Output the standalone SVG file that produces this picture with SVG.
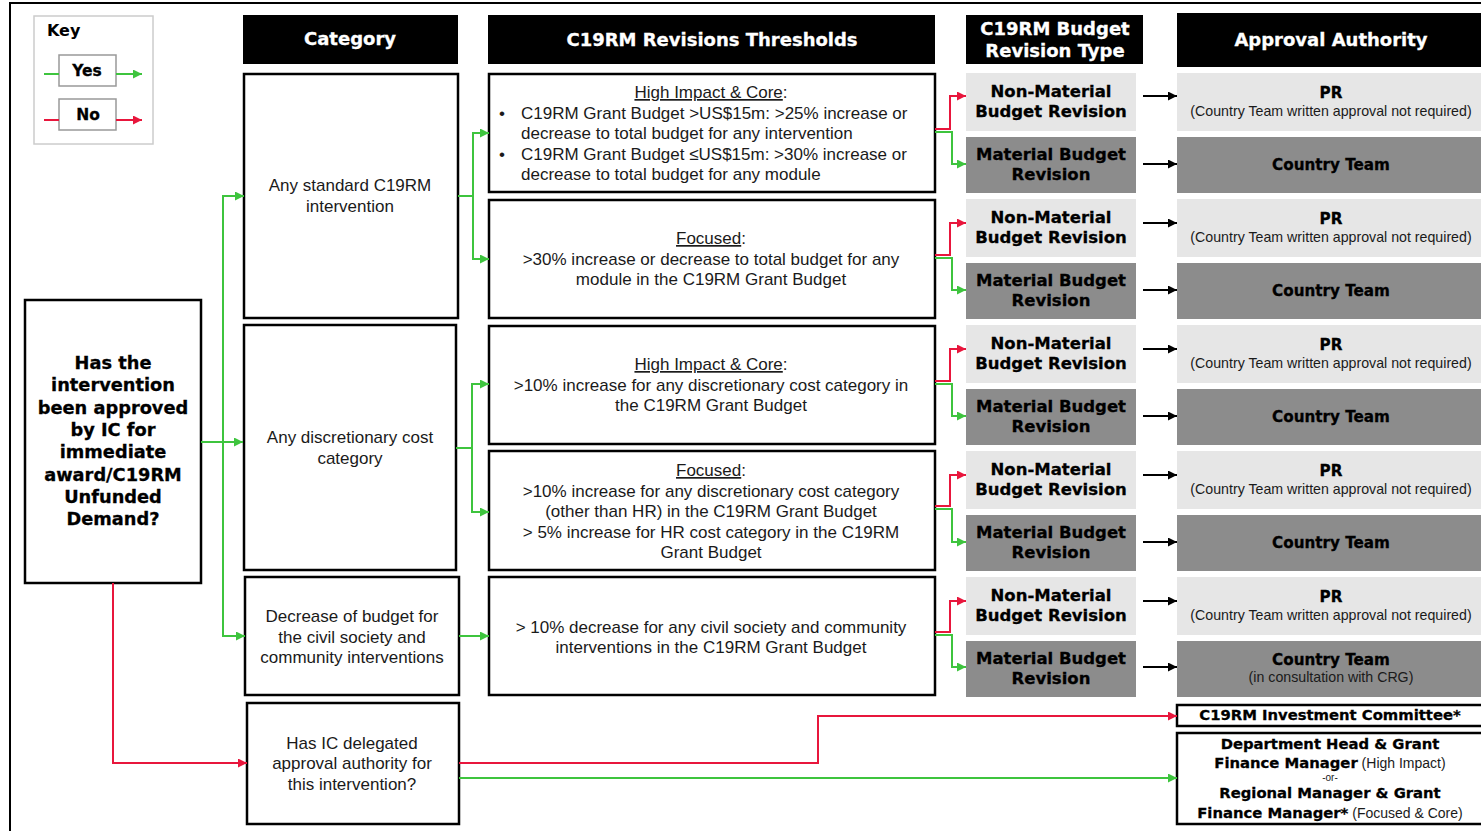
<svg xmlns="http://www.w3.org/2000/svg" width="1481" height="831" viewBox="0 0 1481 831">
<style>
.box{fill:#fff;stroke:#000;stroke-width:2.5}
.hdr{fill:#000}
.ht{font-family:"DejaVu Sans",sans-serif;font-weight:bold;font-size:18px;fill:#fff;stroke:#fff;stroke-width:0.3;text-anchor:middle}
.t{font-family:"Liberation Sans",Arial,sans-serif;font-size:17px;fill:#1a1a1a;text-anchor:middle}
.tl{font-family:"Liberation Sans",Arial,sans-serif;font-size:17px;fill:#1a1a1a}
.s{font-family:"Liberation Sans",Arial,sans-serif;font-size:14.2px;fill:#1a1a1a;text-anchor:middle}
.b{font-family:"DejaVu Sans",sans-serif;font-weight:bold;font-size:16.5px;fill:#000;stroke:#000;stroke-width:0.3;text-anchor:middle}
.bl{font-family:"DejaVu Sans",sans-serif;font-weight:bold;font-size:17.8px;fill:#000;stroke:#000;stroke-width:0.3;text-anchor:middle}
.bs{font-size:15.2px}
.u{text-decoration:underline}
.nm{fill:#e6e6e6}
.m{fill:#8c8c8c}
.g{fill:none;stroke:#3ec43e;stroke-width:2}
.r{fill:none;stroke:#e8163c;stroke-width:2}
.k{fill:none;stroke:#000;stroke-width:2}
</style>
<defs>
<marker id="ag" viewBox="0 0 10 10" refX="10" refY="5" markerWidth="9" markerHeight="9" markerUnits="userSpaceOnUse" orient="auto"><path d="M0,0L10,5L0,10z" fill="#3ec43e"/></marker>
<marker id="ar" viewBox="0 0 10 10" refX="10" refY="5" markerWidth="9" markerHeight="9" markerUnits="userSpaceOnUse" orient="auto"><path d="M0,0L10,5L0,10z" fill="#e8163c"/></marker>
<marker id="ak" viewBox="0 0 10 10" refX="10" refY="5" markerWidth="9" markerHeight="9" markerUnits="userSpaceOnUse" orient="auto"><path d="M0,0L10,5L0,10z" fill="#000"/></marker>
</defs>
<rect width="1481" height="831" fill="#fff"/>
<path d="M10,831V3H1481" fill="none" stroke="#000" stroke-width="2"/>

<g id="key">
<rect x="34" y="16" width="119" height="128" fill="#fff" stroke="#cccccc" stroke-width="1.5"/>
<text x="47" y="36" style="font-family:'DejaVu Sans',sans-serif;font-weight:bold;font-size:16px">Key</text>
<rect x="59" y="55" width="57" height="31" fill="#fff" stroke="#999" stroke-width="1.5"/>
<text x="87" y="76" class="b" style="font-size:15.5px">Yes</text>
<path d="M44,74H59" class="g"/><path d="M116,74H142" class="g" marker-end="url(#ag)"/>
<rect x="59" y="99" width="57" height="31" fill="#fff" stroke="#999" stroke-width="1.5"/>
<text x="88" y="120" class="b" style="font-size:15.5px">No</text>
<path d="M44,120H59" class="r"/><path d="M116,120H142" class="r" marker-end="url(#ar)"/>
</g>

<g id="headers">
<rect class="hdr" x="243" y="15" width="215" height="49"/>
<text class="ht" x="350" y="45">Category</text>
<rect class="hdr" x="488" y="15" width="447" height="49"/>
<text class="ht" x="712" y="46">C19RM Revisions Thresholds</text>
<rect class="hdr" x="966" y="15" width="177" height="49"/>
<text class="ht" x="1055" y="35">C19RM Budget</text>
<text class="ht" x="1055" y="57">Revision Type</text>
<rect class="hdr" x="1177" y="13" width="304" height="54"/>
<text class="ht" x="1331" y="46">Approval Authority</text>
</g>

<g id="question">
<rect class="box" x="25" y="300" width="176" height="283"/>
<text class="bl" x="113" y="369">Has the</text>
<text class="bl" x="113" y="391">intervention</text>
<text class="bl" x="113" y="414">been approved</text>
<text class="bl" x="113" y="436">by IC for</text>
<text class="bl" x="113" y="458">immediate</text>
<text class="bl" x="113" y="481">award/C19RM</text>
<text class="bl" x="113" y="503">Unfunded</text>
<text class="bl" x="113" y="525">Demand?</text>
</g>

<g id="cat1"><rect class="box" x="244" y="74" width="214" height="244"/>
<text class="t" x="350" y="191">Any standard C19RM</text><text class="t" x="350" y="212">intervention</text></g>
<g id="cat2"><rect class="box" x="244" y="325" width="212" height="245"/>
<text class="t" x="350" y="443">Any discretionary cost</text><text class="t" x="350" y="464">category</text></g>
<g id="cat3"><rect class="box" x="245" y="577" width="214" height="118"/>
<text class="t" x="352" y="622">Decrease of budget for</text><text class="t" x="352" y="643">the civil society and</text><text class="t" x="352" y="663">community interventions</text></g>
<g id="cat4"><rect class="box" x="247" y="703" width="212" height="121"/>
<text class="t" x="352" y="749">Has IC delegated</text><text class="t" x="352" y="769">approval authority for</text><text class="t" x="352" y="790">this intervention?</text></g>

<g id="thr1"><rect class="box" x="489" y="74" width="446" height="118"/>
<text class="t" x="711" y="98"><tspan class="u">High Impact &amp; Core</tspan>:</text>
<text class="tl" x="499" y="119">•</text><text class="tl" x="521" y="119">C19RM Grant Budget &gt;US$15m: &gt;25% increase or</text>
<text class="tl" x="521" y="139">decrease to total budget for any intervention</text>
<text class="tl" x="499" y="160">•</text><text class="tl" x="521" y="160">C19RM Grant Budget ≤US$15m: &gt;30% increase or</text>
<text class="tl" x="521" y="180">decrease to total budget for any module</text></g>
<g id="thr2"><rect class="box" x="489" y="200" width="446" height="118"/>
<text class="t" x="711" y="244"><tspan class="u">Focused</tspan>:</text>
<text class="t" x="711" y="265">&gt;30% increase or decrease to total budget for any</text>
<text class="t" x="711" y="285">module in the C19RM Grant Budget</text></g>
<g id="thr3"><rect class="box" x="489" y="326" width="446" height="118"/>
<text class="t" x="711" y="370"><tspan class="u">High Impact &amp; Core</tspan>:</text>
<text class="t" x="711" y="391">&gt;10% increase for any discretionary cost category in</text>
<text class="t" x="711" y="411">the C19RM Grant Budget</text></g>
<g id="thr4"><rect class="box" x="489" y="451" width="446" height="119"/>
<text class="t" x="711" y="476"><tspan class="u">Focused</tspan>:</text>
<text class="t" x="711" y="497">&gt;10% increase for any discretionary cost category</text>
<text class="t" x="711" y="517">(other than HR) in the C19RM Grant Budget</text>
<text class="t" x="711" y="538">&gt; 5% increase for HR cost category in the C19RM</text>
<text class="t" x="711" y="558">Grant Budget</text></g>
<g id="thr5"><rect class="box" x="489" y="577" width="446" height="118"/>
<text class="t" x="711" y="633">&gt; 10% decrease for any civil society and community</text>
<text class="t" x="711" y="653">interventions in the C19RM Grant Budget</text></g>

<g id="rt1"><rect class="nm" x="966" y="73" width="170" height="58"/><text class="b" x="1051" y="97">Non-Material</text><text class="b" x="1051" y="117">Budget Revision</text></g>
<g id="rt2"><rect class="m" x="966" y="137" width="170" height="56"/><text class="b" x="1051" y="160">Material Budget</text><text class="b" x="1051" y="180">Revision</text></g>
<g id="rt3"><rect class="nm" x="966" y="199" width="170" height="58"/><text class="b" x="1051" y="223">Non-Material</text><text class="b" x="1051" y="243">Budget Revision</text></g>
<g id="rt4"><rect class="m" x="966" y="263" width="170" height="56"/><text class="b" x="1051" y="286">Material Budget</text><text class="b" x="1051" y="306">Revision</text></g>
<g id="rt5"><rect class="nm" x="966" y="325" width="170" height="58"/><text class="b" x="1051" y="349">Non-Material</text><text class="b" x="1051" y="369">Budget Revision</text></g>
<g id="rt6"><rect class="m" x="966" y="389" width="170" height="56"/><text class="b" x="1051" y="412">Material Budget</text><text class="b" x="1051" y="432">Revision</text></g>
<g id="rt7"><rect class="nm" x="966" y="451" width="170" height="58"/><text class="b" x="1051" y="475">Non-Material</text><text class="b" x="1051" y="495">Budget Revision</text></g>
<g id="rt8"><rect class="m" x="966" y="515" width="170" height="56"/><text class="b" x="1051" y="538">Material Budget</text><text class="b" x="1051" y="558">Revision</text></g>
<g id="rt9"><rect class="nm" x="966" y="577" width="170" height="58"/><text class="b" x="1051" y="601">Non-Material</text><text class="b" x="1051" y="621">Budget Revision</text></g>
<g id="rt10"><rect class="m" x="966" y="641" width="170" height="56"/><text class="b" x="1051" y="664">Material Budget</text><text class="b" x="1051" y="684">Revision</text></g>

<g id="aa1"><rect class="nm" x="1177" y="73" width="304" height="58"/><text class="b bs" x="1331" y="98">PR</text><text class="s" x="1331" y="116">(Country Team written approval not required)</text></g>
<g id="aa2"><rect class="m" x="1177" y="137" width="304" height="56"/><text class="b bs" x="1331" y="170">Country Team</text></g>
<g id="aa3"><rect class="nm" x="1177" y="199" width="304" height="58"/><text class="b bs" x="1331" y="224">PR</text><text class="s" x="1331" y="242">(Country Team written approval not required)</text></g>
<g id="aa4"><rect class="m" x="1177" y="263" width="304" height="56"/><text class="b bs" x="1331" y="296">Country Team</text></g>
<g id="aa5"><rect class="nm" x="1177" y="325" width="304" height="58"/><text class="b bs" x="1331" y="350">PR</text><text class="s" x="1331" y="368">(Country Team written approval not required)</text></g>
<g id="aa6"><rect class="m" x="1177" y="389" width="304" height="56"/><text class="b bs" x="1331" y="422">Country Team</text></g>
<g id="aa7"><rect class="nm" x="1177" y="451" width="304" height="58"/><text class="b bs" x="1331" y="476">PR</text><text class="s" x="1331" y="494">(Country Team written approval not required)</text></g>
<g id="aa8"><rect class="m" x="1177" y="515" width="304" height="56"/><text class="b bs" x="1331" y="548">Country Team</text></g>
<g id="aa9"><rect class="nm" x="1177" y="577" width="304" height="58"/><text class="b bs" x="1331" y="602">PR</text><text class="s" x="1331" y="620">(Country Team written approval not required)</text></g>
<g id="aa10"><rect class="m" x="1177" y="641" width="304" height="56"/><text class="b bs" x="1331" y="665">Country Team</text><text class="s" x="1331" y="682">(in consultation with CRG)</text></g>

<g id="ic"><rect class="box" x="1177" y="705" width="310" height="21"/><text class="b" x="1330" y="720" style="font-size:14.8px">C19RM Investment Committee*</text></g>
<g id="dept"><rect class="box" x="1177" y="733" width="310" height="91"/>
<text class="b" x="1330" y="749" style="font-size:14.8px">Department Head &amp; Grant</text>
<text class="b" x="1330" y="768" style="font-size:14.8px">Finance Manager<tspan style="font-family:'Liberation Sans',Arial,sans-serif;font-weight:normal;stroke:none;font-size:14px;fill:#1a1a1a"> (High Impact)</tspan></text>
<text class="s" x="1330" y="781" style="font-size:10px">-or-</text>
<text class="b" x="1330" y="798" style="font-size:14.8px">Regional Manager &amp; Grant</text>
<text class="b" x="1330" y="818" style="font-size:14.8px">Finance Manager*<tspan style="font-family:'Liberation Sans',Arial,sans-serif;font-weight:normal;stroke:none;font-size:14px;fill:#1a1a1a"> (Focused &amp; Core)</tspan></text></g>

<g id="connectors">
<path class="g" d="M201,442H243" marker-end="url(#ag)"/>
<path class="g" d="M243,196H223V636H245" marker-end="url(#ag)"/>
<path class="g" d="M223,196H244" marker-end="url(#ag)"/>
<path class="r" d="M113,583V763H247" marker-end="url(#ar)"/>

<path class="g" d="M458,196H473"/>
<path class="g" d="M489,133H473V259H489" marker-end="url(#ag)"/>
<path class="g" d="M473,133H489" marker-end="url(#ag)"/>
<path class="g" d="M456,448H472"/>
<path class="g" d="M489,384H472V512H489" marker-end="url(#ag)"/>
<path class="g" d="M472,384H489" marker-end="url(#ag)"/>
<path class="g" d="M459,636H489" marker-end="url(#ag)"/>

<path class="r" d="M935,129H950V96H966" marker-end="url(#ar)"/>
<path class="g" d="M935,132H952V164H966" marker-end="url(#ag)"/>
<path class="r" d="M935,255H950V223H966" marker-end="url(#ar)"/>
<path class="g" d="M935,258H952V290H966" marker-end="url(#ag)"/>
<path class="r" d="M935,381H950V349H966" marker-end="url(#ar)"/>
<path class="g" d="M935,384H952V416H966" marker-end="url(#ag)"/>
<path class="r" d="M935,506H950V475H966" marker-end="url(#ar)"/>
<path class="g" d="M935,509H952V542H966" marker-end="url(#ag)"/>
<path class="r" d="M935,632H950V601H966" marker-end="url(#ar)"/>
<path class="g" d="M935,635H952V667H966" marker-end="url(#ag)"/>

<path class="k" d="M1143,96H1177" marker-end="url(#ak)"/>
<path class="k" d="M1143,164H1177" marker-end="url(#ak)"/>
<path class="k" d="M1143,223H1177" marker-end="url(#ak)"/>
<path class="k" d="M1143,290H1177" marker-end="url(#ak)"/>
<path class="k" d="M1143,349H1177" marker-end="url(#ak)"/>
<path class="k" d="M1143,416H1177" marker-end="url(#ak)"/>
<path class="k" d="M1143,475H1177" marker-end="url(#ak)"/>
<path class="k" d="M1143,542H1177" marker-end="url(#ak)"/>
<path class="k" d="M1143,601H1177" marker-end="url(#ak)"/>
<path class="k" d="M1143,667H1177" marker-end="url(#ak)"/>

<path class="r" d="M459,763H818V716H1177" marker-end="url(#ar)"/>
<path class="g" d="M459,778H1177" marker-end="url(#ag)"/>
</g>
</svg>
